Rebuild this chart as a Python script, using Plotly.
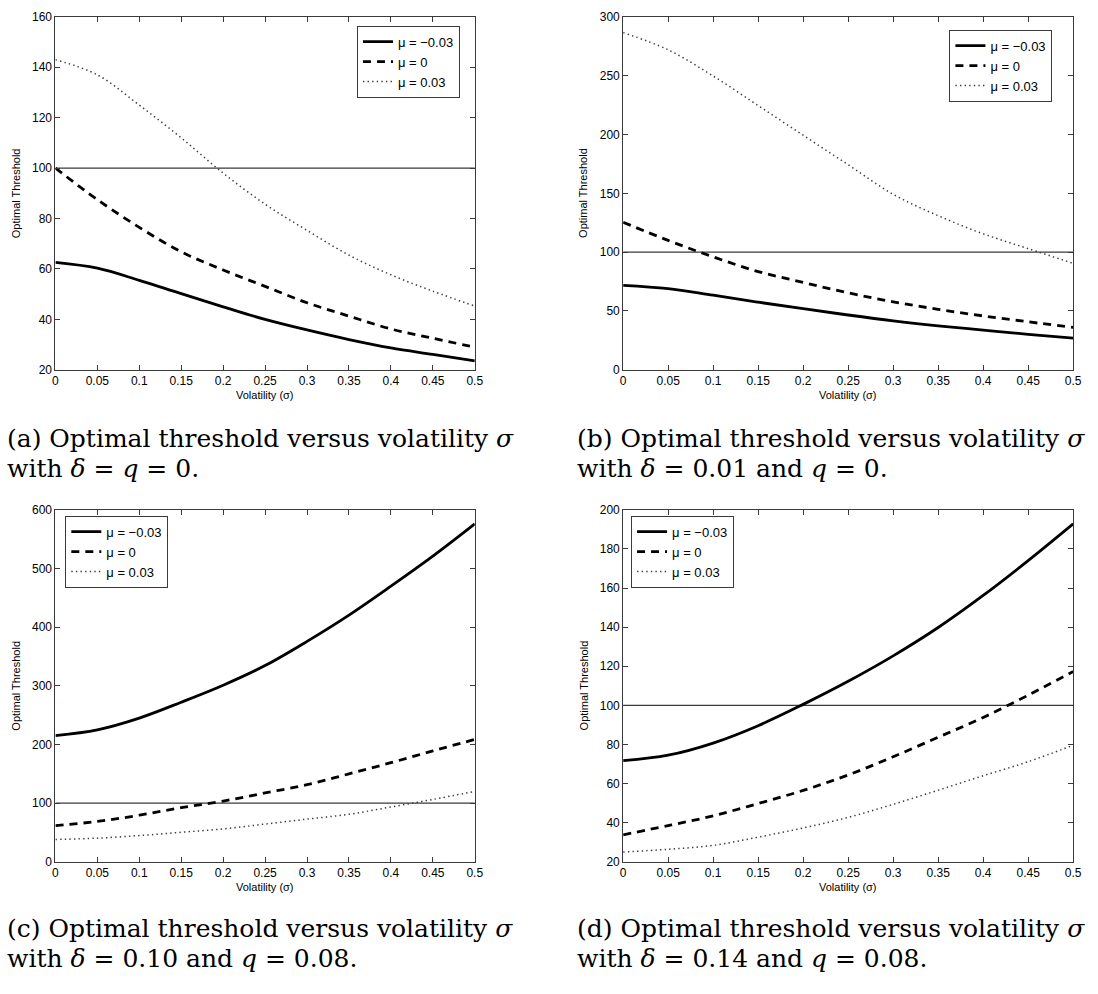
import plotly.graph_objects as go

W, H = 1098, 994

sigma = [0, 0.05, 0.1, 0.15, 0.2, 0.25, 0.3, 0.35, 0.4, 0.45, 0.5]
x_ticks = [0, 0.05, 0.1, 0.15, 0.2, 0.25, 0.3, 0.35, 0.4, 0.45, 0.5]
x_tick_labels = ["0", "0.05", "0.1", "0.15", "0.2", "0.25", "0.3", "0.35", "0.4", "0.45", "0.5"]
series_names = ["μ = −0.03", "μ = 0", "μ = 0.03"]
ref_level = 100

# Panel (a): delta = q = 0
a_neg = [62.6, 60.3, 55.5, 50.2, 45.0, 40.0, 35.8, 32.0, 28.7, 26.1, 23.5]
a_zero = [100, 87.5, 76.5, 66.8, 59.6, 53.1, 46.6, 41.3, 36.2, 32.5, 29.0]
a_pos = [143, 137, 125, 112, 98, 85.7, 75.3, 65.5, 57.7, 51.2, 45.3]
# Panel (b): delta = 0.01, q = 0
b_neg = [71.8, 69.0, 63.4, 57.5, 52.0, 46.6, 41.6, 37.4, 33.8, 30.2, 27.0]
b_zero = [125.4, 110, 96, 83.5, 74.3, 65.4, 57.8, 51.4, 45.8, 40.8, 36.0]
b_pos = [286.6, 272, 249.7, 224.6, 199.4, 174.3, 149.2, 131, 115.6, 103, 90.5]
# Panel (c): delta = 0.10, q = 0.08
c_neg = [215.2, 225, 245, 272, 301, 334.5, 375.7, 420.5, 469.8, 521, 576]
c_zero = [61.5, 68.8, 79.4, 92.3, 103.5, 117.4, 131.4, 149.9, 168.9, 189, 208.6]
c_pos = [38, 40.3, 44.7, 50.3, 56, 64.3, 72.7, 81, 93.4, 106.3, 120]
# Panel (d): delta = 0.14, q = 0.08
d_neg = [71.7, 74.5, 80.7, 89.6, 100.5, 112.3, 125.3, 139.8, 156.2, 174, 192.8]
d_zero = [33.8, 38.5, 43.5, 49.8, 56.5, 64.4, 73.7, 83.7, 93.8, 105.2, 117.3]
d_pos = [25, 26.4, 28.4, 32.6, 37.3, 42.7, 49.4, 56.6, 64, 71.2, 79.6]

a_yticks = [20, 40, 60, 80, 100, 120, 140, 160]
b_yticks = [0, 50, 100, 150, 200, 250, 300]
c_yticks = [0, 100, 200, 300, 400, 500, 600]
d_yticks = [20, 40, 60, 80, 100, 120, 140, 160, 180, 200]

captions = [
    ("(a) Optimal threshold versus volatility <i>σ</i>", "with <i>δ</i> = <i>q</i> = 0."),
    ("(b) Optimal threshold versus volatility <i>σ</i>", "with <i>δ</i> = 0.01 and <i>q</i> = 0."),
    ("(c) Optimal threshold versus volatility <i>σ</i>", "with <i>δ</i> = 0.10 and <i>q</i> = 0.08."),
    ("(d) Optimal threshold versus volatility <i>σ</i>", "with <i>δ</i> = 0.14 and <i>q</i> = 0.08."),
]

# pixel boxes: (left, right, top, bottom)
boxes = [(53, 477, 10, 368), (627, 1082, 10, 368), (53, 477, 510, 867), (627, 1082, 510, 867)]
legend_pos = [(462, 19, "right"), (1061, 23, "right"), (63, 516, "left"), (635, 516, "left")]
caption_pos = [(2, 438, 468), (578, 438, 468), (2, 935, 965), (578, 935, 965)]

panels = [
    (a_neg, a_zero, a_pos, [20, 160], a_yticks),
    (b_neg, b_zero, b_pos, [0, 300], b_yticks),
    (c_neg, c_zero, c_pos, [0, 600], c_yticks),
    (d_neg, d_zero, d_pos, [20, 200], d_yticks),
]

SANS = "Liberation Sans, Arial, sans-serif"
SERIF = "DejaVu Serif, Liberation Serif, serif"
AX = "#3a3a3a"

styles = [
    dict(color="black", width=2.8, dash="solid"),
    dict(color="black", width=2.8, dash="8px,6px"),
    dict(color="#3c3c3c", width=1.5, dash="1.4px,3.2px"),
]

fig = go.Figure()
layout = dict(width=W, height=H, margin=dict(l=0, r=0, t=0, b=0),
              paper_bgcolor="white", plot_bgcolor="white", annotations=[])


def px_x(p):
    return p / W


def px_y(p):
    return 1 - p / H


for i, (neg, zero, pos, yr, yt) in enumerate(panels):
    n = "" if i == 0 else str(i + 1)
    xa, ya = "x" + n, "y" + n
    leg = "legend" + n
    l, r, t, b = boxes[i]
    # reference line
    fig.add_trace(go.Scatter(x=[x_ticks[0], x_ticks[-1]], y=[ref_level, ref_level], mode="lines",
                             line=dict(color=AX, width=1.3), showlegend=False,
                             xaxis=xa, yaxis=ya, hoverinfo="skip"))
    for vals, name, st in zip([neg, zero, pos], series_names, styles):
        fig.add_trace(go.Scatter(x=sigma, y=vals, mode="lines", name=name,
                                 line=dict(shape="spline", smoothing=1.0, **st),
                                 xaxis=xa, yaxis=ya, legend=leg))
    axcommon = dict(showline=True, linecolor=AX, linewidth=1, mirror="allticks",
                    ticks="inside", ticklen=5, tickcolor=AX, tickwidth=1,
                    showgrid=False, zeroline=False,
                    tickfont=dict(family=SANS, size=12, color="black"))
    layout["xaxis" + n] = dict(domain=[px_x(l), px_x(r)], range=[0, 0.5], anchor=ya,
                               tickvals=x_ticks, ticktext=x_tick_labels, **axcommon)
    layout["yaxis" + n] = dict(domain=[px_y(b), px_y(t)], range=yr, anchor=xa,
                               tickvals=yt, ticktext=[str(v) for v in yt], **axcommon)
    lx, ly, anchor = legend_pos[i]
    layout[leg] = dict(x=px_x(lx), y=px_y(ly), xanchor=anchor, yanchor="top",
                       bgcolor="white", bordercolor=AX, borderwidth=1,
                       font=dict(family=SANS, size=13, color="black"),
                       tracegroupgap=0, itemwidth=30)
    # axis titles
    layout["annotations"].append(dict(
        text="Volatility (σ)", x=px_x((l + r) / 2), y=px_y(b + 26), xref="paper", yref="paper",
        xanchor="center", yanchor="middle", showarrow=False,
        font=dict(family=SANS, size=11, color="black")))
    layout["annotations"].append(dict(
        text="Optimal Threshold", x=px_x(l - 40), y=px_y((t + b) / 2), xref="paper", yref="paper",
        xanchor="center", yanchor="middle", textangle=-90, showarrow=False,
        font=dict(family=SANS, size=11, color="black")))
    # captions
    cx, cy1, cy2 = caption_pos[i]
    for txt, cy in zip(captions[i], [cy1, cy2]):
        layout["annotations"].append(dict(
            text=txt, x=px_x(cx), y=px_y(cy), xref="paper", yref="paper",
            xanchor="left", yanchor="middle", showarrow=False,
            font=dict(family=SERIF, size=25, color="black")))

fig.update_layout(**layout)
fig.write_html("out.html")
